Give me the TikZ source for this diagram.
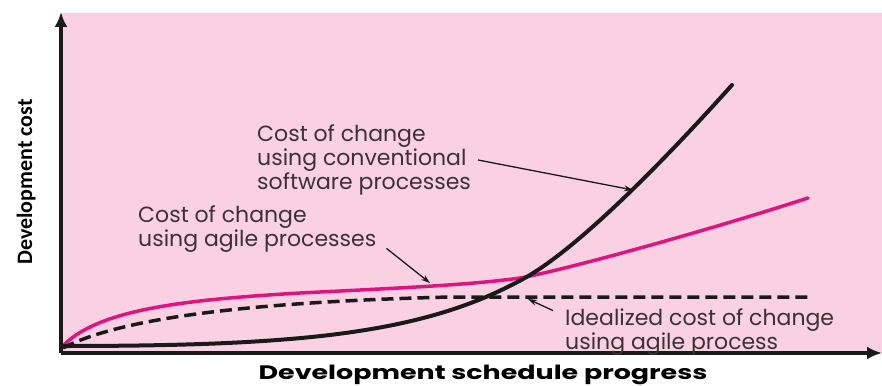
\documentclass[tikz,border=0pt]{standalone}
\usepackage{fontspec}
\setmainfont{Poppins}
\newfontfamily\axisfont{Carlito}
\newfontfamily\xlabelfont[FakeStretch=1.38]{Poppins}
\usetikzlibrary{arrows.meta}
\definecolor{bgpink}{HTML}{F9D1E3}
\definecolor{curvepink}{HTML}{E0137F}
\definecolor{curveblack}{HTML}{1A1A1A}
\definecolor{labelgray}{HTML}{3A3236}
\begin{document}
\begin{tikzpicture}[x=1pt,y=-1pt,
  axis/.style={line width=3.5pt, curveblack, -{Latex[length=15pt,width=13pt]}},
  conventional/.style={line width=4pt, curveblack, line cap=round},
  agilecurve/.style={line width=3.5pt, curvepink, line cap=round},
  idealcurve/.style={line width=3.5pt, curveblack, dash pattern=on 12pt off 6pt},
  lbl/.style={text=labelgray, font=\fontsize{22}{22}\selectfont, align=left, inner sep=0pt, anchor=west},
  lblarrow/.style={line width=1.3pt, curveblack, -{Stealth[length=9pt,width=6pt]}},
  axislabel/.style={text=black, inner sep=0pt}
]
\useasboundingbox (0,0) rectangle (882,385);
\fill[white] (0,0) rectangle (882,385);
\fill[bgpink] (61,13) rectangle (882,353);

% curves
\draw[idealcurve] (63,348) .. controls (120,318) and (250,302) .. (450,297) -- (810,297);
\draw[agilecurve] (61,348) .. controls (95,310) and (180,300) .. (300,293)
  .. controls (400,288) and (470,285) .. (520,278)
  .. controls (560,271) and (700,233) .. (808,198);
\draw[conventional] (63,346) .. controls (300,346) and (423,334) .. (523,279)
  .. controls (580,248) and (672,152) .. (732,85);

% axes
\coordinate (origin) at (61,353);
\coordinate (ytip) at (61,12);
\coordinate (xtip) at (882,353);
\draw[axis] (origin) -- (ytip);
\draw[axis] (origin) -- (xtip);

% labels
\node[lbl] (conv) at (257,160) {Cost of change\\using conventional\\software processes};
\node[lbl] (agile) at (138,229) {Cost of change\\using agile processes};
\node[lbl] (ideal) at (565,332) {Idealized cost of change\\using agile process};

\coordinate (convpt) at (633,190);
\coordinate (agilept) at (430,283);
\coordinate (idealpt) at (528,299);
\draw[lblarrow] ([shift={(7,0)}]conv.east) -- (convpt);
\draw[lblarrow] ([shift={(10,-4)}]agile.south east) -- (agilept);
\draw[lblarrow] ([shift={(-12,2)}]ideal.north west) -- (idealpt);

\node[axislabel, font=\xlabelfont\bfseries\fontsize{19.5}{22}\selectfont, anchor=base] (xlabel) at (483,379) {Development schedule progress};
\node[axislabel, font=\axisfont\bfseries\fontsize{22}{24}\selectfont, rotate=90, anchor=base] (ylabel) at (32,182) {Development cost};
\end{tikzpicture}
\end{document}
